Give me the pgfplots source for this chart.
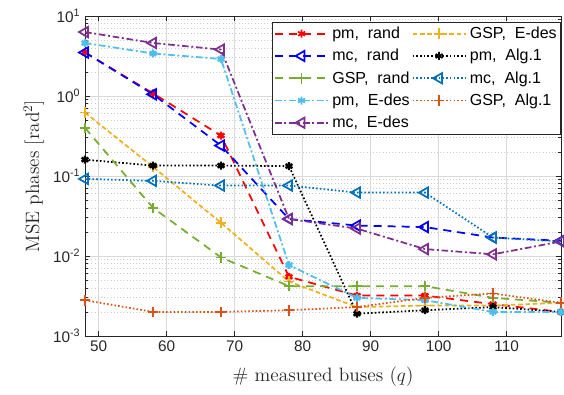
\documentclass[border=0pt]{standalone}
\usepackage{fontspec}
\setsansfont{Liberation Sans}
\usepackage{pgfplots}
\pgfplotsset{compat=1.18}
\definecolor{mred}{rgb}{1,0,0}
\definecolor{mblue}{rgb}{0,0,1}
\definecolor{mgreen}{rgb}{0.466,0.674,0.188}
\definecolor{mlblue}{rgb}{0.301,0.745,0.933}
\definecolor{mpurple}{rgb}{0.494,0.184,0.556}
\definecolor{myellow}{rgb}{0.929,0.694,0.125}
\definecolor{mdblue}{rgb}{0,0.447,0.741}
\definecolor{morange}{rgb}{0.85,0.325,0.098}
\definecolor{axgray}{rgb}{0.15,0.15,0.15}
\pgfplotsset{
  mylegimg/.style={legend image code/.code={\draw[line width=1.3pt, every mark/.append style={line width=1.3pt}, mark repeat=2,mark phase=2] plot coordinates {(0cm,0cm) (0.7cm,0cm) (1.4cm,0cm)};}},
}
\begin{document}
\begin{tikzpicture}
\begin{axis}[
  scale only axis,
  width=357pt, height=240pt,
  ymode=log,
  xmin=48, xmax=118, ymin=1e-3, ymax=10,
  xtick={50,60,70,80,90,100,110},
  ytick={1e-3,1e-2,1e-1,1,10},
  yticklabels={10\textsuperscript{-3},10\textsuperscript{-2},10\textsuperscript{-1},10\textsuperscript{0},10\textsuperscript{1}},
  /pgf/number format/assume math mode=true,
  ticklabel style={font=\sffamily\fontsize{11.5}{13}\selectfont, text=axgray},
  tick align=inside,
  tick style={axgray, line width=0.5pt},
  major tick length=4pt, minor tick length=2pt,
  axis line style={axgray, line width=0.6pt},
  grid=both,
  major grid style={gray!30, line width=0.5pt},
  minor y grid style={gray!40, dotted, line width=0.5pt},
  minor x grid style={draw=none},
  xlabel={\# measured buses ($q$)},
  ylabel={MSE phases [rad$^2$]},
  label style={font=\fontsize{14.5}{16}\selectfont, text=axgray},
  xlabel style={yshift=-5pt},
  legend columns=2,
  legend style={at={(1,1)}, yshift=-4.5pt, anchor=north east,
    font=\sffamily\fontsize{12}{14}\selectfont, draw=axgray,
    /tikz/every even column/.append style={column sep=0pt},
    /tikz/every odd column/.append style={column sep=1pt},
    nodes={inner xsep=1.5pt},
    row sep=2.5pt, inner sep=1.5pt},
  legend cell align=left,
  every axis plot/.append style={mylegimg},
]
% pm rand
\addplot[mred, line width=1.3pt, dash pattern=on 6pt off 4.5pt, mark=asterisk, mark size=3pt, mark options={solid, line width=1.8pt}]
 coordinates {(48,3.5)(58,1.08)(68,0.32)(78,0.0055)(88,0.0032)(98,0.0032)(108,0.0025)(118,0.002)};
\addlegendentry{pm,\ \ rand}
% GSP E-des
\addplot[myellow, line width=1.3pt, dash pattern=on 3.5pt off 2pt, mark=+, mark size=4pt, mark options={solid, line width=1.3pt}]
 coordinates {(48,0.62)(58,0.13)(68,0.026)(78,0.0048)(88,0.0023)(98,0.0024)(108,0.0024)(118,0.0026)};
\addlegendentry{GSP,\ \ E-des}
% mc rand
\addplot[mblue, line width=1.3pt, dash pattern=on 6pt off 4.5pt, mark=triangle, mark size=4.5pt, mark options={solid, rotate=90, line width=1.3pt}]
 coordinates {(48,3.5)(58,1.05)(68,0.24)(78,0.029)(88,0.024)(98,0.023)(108,0.017)(118,0.0155)};
\addlegendentry{mc,\ \ rand}
% pm Alg.1
\addplot[black, line width=1.3pt, dash pattern=on 1.2pt off 1.6pt, mark=asterisk, mark size=3pt, mark options={solid, line width=1.8pt}]
 coordinates {(48,0.16)(58,0.135)(68,0.135)(78,0.133)(88,0.0019)(98,0.0021)(108,0.0023)(118,0.0020)};
\addlegendentry{pm,\ \ Alg.1}
% GSP rand
\addplot[mgreen, line width=1.3pt, dash pattern=on 6pt off 4.5pt, mark=+, mark size=4pt, mark options={solid, line width=1.3pt}]
 coordinates {(48,0.40)(58,0.040)(68,0.0096)(78,0.0042)(88,0.0042)(98,0.0042)(108,0.0030)(118,0.0026)};
\addlegendentry{GSP,\ \ rand}
% mc Alg.1
\addplot[mdblue, line width=1.3pt, dash pattern=on 1.2pt off 1.6pt, mark=triangle, mark size=4.5pt, mark options={solid, rotate=90, line width=1.3pt}]
 coordinates {(48,0.092)(58,0.087)(68,0.076)(78,0.076)(88,0.062)(98,0.062)(108,0.017)(118,0.0152)};
\addlegendentry{mc,\ \ Alg.1}
% pm E-des
\addplot[mlblue, line width=1.3pt, dash pattern=on 5pt off 2pt on 1.5pt off 2pt, mark=asterisk, mark size=3pt, mark options={solid, line width=1.8pt}]
 coordinates {(48,4.6)(58,3.4)(68,2.9)(78,0.0077)(88,0.0030)(98,0.0028)(108,0.0020)(118,0.0020)};
\addlegendentry{pm,\ \ E-des}
% GSP Alg.1
\addplot[morange, line width=1.3pt, dash pattern=on 1.2pt off 1.6pt, mark=+, mark size=4pt, mark options={solid, line width=1.3pt}]
 coordinates {(48,0.0028)(58,0.0020)(68,0.0020)(78,0.0021)(88,0.0023)(98,0.0030)(108,0.0034)(118,0.0026)};
\addlegendentry{GSP,\ \ Alg.1}
% mc E-des
\addplot[mpurple, line width=1.3pt, dash pattern=on 5pt off 2pt on 1.5pt off 2pt, mark=triangle, mark size=4.5pt, mark options={solid, rotate=90, line width=1.3pt}]
 coordinates {(48,6.3)(58,4.6)(68,3.8)(78,0.029)(88,0.022)(98,0.0122)(108,0.0105)(118,0.0152)};
\addlegendentry{mc,\ \ E-des}
\end{axis}
\pgfresetboundingbox
\path[use as bounding box] ([shift={(-63.75pt,-44.25pt)}]current axis.south west) rectangle ([shift={(2.25pt,12pt)}]current axis.north east);
\end{tikzpicture}
\end{document}
